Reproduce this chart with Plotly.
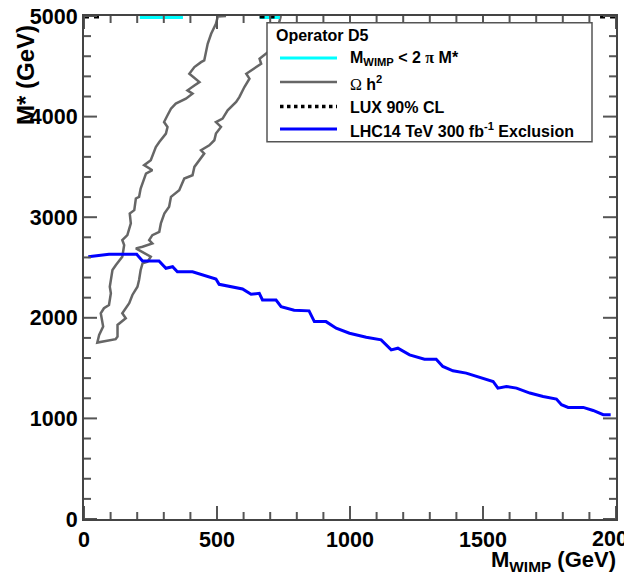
import plotly.graph_objects as go

# ---------------- data ----------------
lhc_x = [16, 94, 198, 220, 282, 308, 333, 351, 408, 496, 508, 596, 628, 659, 671, 722, 741, 790,
         846, 866, 910, 948, 998, 1061, 1117, 1155, 1180, 1224, 1280, 1324, 1349, 1387, 1437, 1488,
         1538, 1556, 1588, 1626, 1676, 1726, 1776, 1795, 1820, 1877, 1914, 1952, 1980]
lhc_y = [2607, 2631, 2631, 2564, 2564, 2492, 2508, 2458, 2458, 2386, 2333, 2287, 2234, 2244, 2177,
         2177, 2111, 2075, 2069, 1962, 1962, 1897, 1847, 1807, 1781, 1681, 1698, 1632, 1589, 1589,
         1516, 1473, 1450, 1411, 1367, 1301, 1317, 1301, 1252, 1218, 1192, 1136, 1109, 1109, 1079,
         1037, 1037]

omega_x = [534, 503, 496, 478, 465, 452, 440, 415, 396, 434, 415, 389, 408, 383, 345, 327, 314, 301,
           314, 308, 283, 270, 251, 226, 257, 233, 213, 207, 195, 189, 172, 176, 163, 144, 151, 144,
           120, 107, 97, 101, 94, 75, 63, 72, 57, 50,
           119, 126, 126, 157, 144, 170, 182, 201, 207, 213, 220, 239, 251, 220, 195, 220, 257, 245,
           257, 283, 289, 302, 320, 327, 358, 377, 408, 415, 434, 452, 440, 471, 490, 496, 515, 496,
           521, 540, 572, 584, 603, 622, 610, 647, 666, 660, 691, 716, 740]
omega_y = [5000, 4995, 4922, 4823, 4724, 4558, 4541, 4492, 4426, 4343, 4310, 4261, 4228, 4178, 4129,
           4079, 4013, 3946, 3897, 3831, 3748, 3698, 3566, 3517, 3467, 3434, 3285, 3202, 3186, 3070,
           3037, 2938, 2822, 2773, 2723, 2607, 2525, 2475, 2309, 2244, 2128, 2095, 2045, 1913, 1830,
           1754,
           1788, 1813, 1929, 1996, 2045, 2145, 2227, 2309, 2376, 2475, 2541, 2557, 2607, 2657, 2690,
           2706, 2740, 2773, 2822, 2855, 2938, 3037, 3103, 3202, 3269, 3385, 3417, 3500, 3566, 3633,
           3665, 3715, 3765, 3831, 3897, 3946, 3980, 4062, 4145, 4194, 4294, 4377, 4426, 4492, 4525,
           4575, 4641, 4757, 5000]

unit_x = [210, 372, None, 661, 736]
unit_y = [5000, 5000, None, 5000, 5000]

lux_x = [0, 60, None, 660, 725, None, 1940, 2000]
lux_y = [5000, 5000, None, 5000, 5000, None, 5000, 5000]

x_range = [0, 2000]
y_range = [0, 5000]
x_major, x_minor = 500, 100
y_major, y_minor = 1000, 200
x_last_label = "2000"

legend_header = "Operator D5"
legend_labels = [
    "M<sub>WIMP</sub> &lt; 2 <span style=\"font-family:'Liberation Serif'\">π</span> M*",
    "<span style=\"font-family:'Liberation Serif';font-weight:normal\">Ω</span> h<sup>2</sup>",
    "LUX 90% CL",
    "LHC14 TeV 300 fb<sup>-1</sup> Exclusion",
]
legend_colors = ["#00ffff", "#666666", "black", "#0000ff"]
legend_dash = ["solid", "solid", "dot", "solid"]
legend_widths = [3, 2.5, 3.5, 3]

# ---------------- layout helpers ----------------
W, H = 624, 573
ML, MR, MT, MB = 84, 8, 16, 54
PW, PH = W - ML - MR, H - MT - MB
TICK_COLOR = "#555555"
MAJOR_LEN, MINOR_LEN = 13, 7


def pxx(p):
    return (p - ML) / PW


def pxy(p):
    return (H - MB - p) / PH


def steps(lo, hi, step):
    n = int(round((hi - lo) / step))
    return [lo + i * step for i in range(n + 1)]


FONT = "Liberation Sans, Arial, Helvetica, sans-serif"
TICKFONT = dict(family=FONT, size=21.5, color="black", weight="bold")

fig = go.Figure()
fig.add_trace(go.Scatter(x=omega_x, y=omega_y, mode="lines",
                         line=dict(color="#666666", width=2.5), showlegend=False))
fig.add_trace(go.Scatter(x=lhc_x, y=lhc_y, mode="lines",
                         line=dict(color="#0000ff", width=3), showlegend=False))
fig.add_trace(go.Scatter(x=unit_x, y=unit_y, mode="lines",
                         line=dict(color="#00ffff", width=6), showlegend=False))
fig.add_trace(go.Scatter(x=lux_x, y=lux_y, mode="lines",
                         line=dict(color="black", width=5, dash="dot"), showlegend=False))

fig.update_xaxes(range=x_range, tickmode="linear", tick0=0, dtick=x_major,
                 showline=True, linecolor="#444444", linewidth=2, mirror=True,
                 ticks="", showgrid=False, zeroline=False, tickfont=TICKFONT)
fig.update_yaxes(range=y_range, tickmode="linear", tick0=0, dtick=y_major,
                 showline=True, linecolor="#444444", linewidth=2, mirror=True,
                 ticks="", showgrid=False, zeroline=False, tickfont=TICKFONT)

shapes = []
annotations = []

# frame tick marks on all four sides (ROOT style, pointing inward)
for i, v in enumerate(steps(x_range[0], x_range[1], x_minor)):
    ln = MAJOR_LEN if i % (x_major // x_minor) == 0 else MINOR_LEN
    for anchor, sgn in ((0, 1), (1, -1)):
        shapes.append(dict(type="line", xref="x", yref="paper", ysizemode="pixel", yanchor=anchor,
                           x0=v, x1=v, y0=0, y1=sgn * ln,
                           line=dict(color=TICK_COLOR, width=2), layer="above"))
for i, v in enumerate(steps(y_range[0], y_range[1], y_minor)):
    ln = MAJOR_LEN if i % (y_major // y_minor) == 0 else MINOR_LEN
    for anchor, sgn in ((0, 1), (1, -1)):
        shapes.append(dict(type="line", yref="y", xref="paper", xsizemode="pixel", xanchor=anchor,
                           y0=v, y1=v, x0=0, x1=sgn * ln,
                           line=dict(color=TICK_COLOR, width=2), layer="above"))

# legend box
shapes.append(dict(type="rect", xref="paper", yref="paper",
                   x0=pxx(267), x1=pxx(592), y0=pxy(141.7), y1=pxy(22.7),
                   fillcolor="white", line=dict(color="#555555", width=1.5), layer="above"))
annotations.append(dict(xref="paper", yref="paper", x=pxx(274), y=pxy(36), xanchor="left",
                        yanchor="middle", text=legend_header, showarrow=False,
                        font=dict(family=FONT, size=16, color="black", weight="bold")))
entry_y = [58, 82, 106.5, 129]
for lab, col, dsh, wd, yy in zip(legend_labels, legend_colors, legend_dash, legend_widths, entry_y):
    shapes.append(dict(type="line", xref="paper", yref="paper",
                       x0=pxx(280), x1=pxx(337), y0=pxy(yy), y1=pxy(yy),
                       line=dict(color=col, width=wd, dash=dsh), layer="above"))
    annotations.append(dict(xref="paper", yref="paper", x=pxx(348), y=pxy(yy + 1), xanchor="left",
                            yanchor="middle", text=lab, showarrow=False,
                            font=dict(family=FONT, size=16, color="black", weight="bold")))

# last x tick label (overhangs the page edge, as in the reference)
annotations.append(dict(xref="x", yref="paper", x=x_range[1], y=pxy(538.5), xanchor="center",
                        yanchor="middle", text=x_last_label, showarrow=False, font=TICKFONT))

# axis titles
annotations.append(dict(xref="paper", yref="paper", x=pxx(618), y=pxy(561), xanchor="right",
                        yanchor="middle", text="M<sub>WIMP</sub> (GeV)", showarrow=False,
                        font=dict(family=FONT, size=22, color="black", weight="bold")))
annotations.append(dict(xref="paper", yref="paper", x=pxx(25), y=pxy(75), xanchor="center",
                        yanchor="middle", text="M* (GeV)", textangle=-90, showarrow=False,
                        font=dict(family=FONT, size=24, color="black", weight="bold")))

fig.update_layout(
    template="none",
    width=W, height=H,
    margin=dict(l=ML, r=MR, t=MT, b=MB, pad=0, autoexpand=False),
    plot_bgcolor="white", paper_bgcolor="white",
    shapes=shapes, annotations=annotations,
    showlegend=False,
)

fig.write_html("out.html")
